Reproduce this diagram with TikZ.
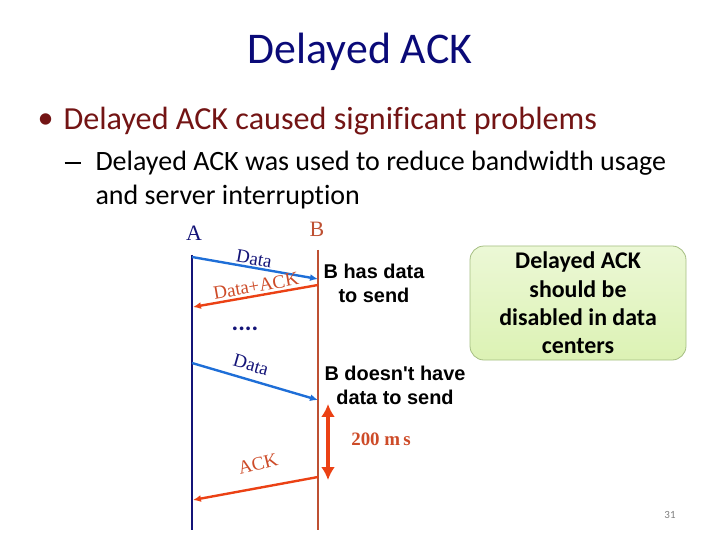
\documentclass[tikz,border=0pt]{standalone}
\usepackage{fontspec}
\setmainfont{Carlito}[Ligatures=NoCommon]
\newfontfamily\arialfont{Liberation Sans}
\newfontfamily\timesfont{Liberation Serif}
\usepackage{xcolor}
\usetikzlibrary{arrows.meta,positioning,calc}

\definecolor{titleblue}{RGB}{10,10,120}
\definecolor{bulletred}{RGB}{115,20,20}
\definecolor{lineA}{RGB}{20,20,120}
\definecolor{lineB}{RGB}{190,80,50}
\definecolor{msgblue}{RGB}{30,110,215}
\definecolor{msgred}{RGB}{235,65,20}
\definecolor{lblred}{RGB}{205,75,40}
\definecolor{boxgreen}{RGB}{220,242,180}
\definecolor{boxedge}{RGB}{165,190,130}

\begin{document}
\begin{tikzpicture}[
  x=1bp, y=-1bp,
  bullet/.style={anchor=west, text=bulletred, font=\fontsize{32.3}{36}\selectfont},
  subbullet/.style={anchor=base west, text=black, font=\fontsize{28.1}{34}\selectfont},
  host/.style={font=\timesfont\fontsize{22}{24}\selectfont},
  msg/.style={-{Latex[length=8pt,width=7pt]}, line width=2.4pt},
  msglbl/.style={font=\timesfont\fontsize{19}{21}\selectfont, inner sep=0pt},
  note/.style={font=\arialfont\bfseries\fontsize{20}{24}\selectfont, align=center},
  advice/.style={rectangle, rounded corners=14bp, draw=boxedge, line width=0.8pt,
    top color=boxgreen!55, bottom color=boxgreen, minimum width=216bp, minimum height=114bp,
    align=center, font=\bfseries\fontsize{24}{28.5}\selectfont}
]
\useasboundingbox (0,0) rectangle (720,540);

% Title and bullets
\node[text=titleblue, font=\fontsize{44}{48}\selectfont] (title) at (360,52) {Delayed ACK};
\node[bullet] (dot1) at (34,121) {\textbullet};
\node[bullet] (b1) at (60,121) {Delayed ACK caused significant problems};
\node[subbullet] (dash2) at (61,171) {\rule[0.24em]{0.6em}{0.07em}};
\node[subbullet] (b2) at (92,171) {Delayed ACK was used to reduce bandwidth usage};
\node[subbullet] (b3) at (92,205) {and server interruption};

% Hosts
\node[host, text=lineA] (A) at (194,233) {A};
\node[host, text=lineB] (B) at (317,229) {B};
\coordinate (Atop) at (192,255);
\coordinate (Abot) at (192,530);
\coordinate (Btop) at (318,250);
\coordinate (Bbot) at (318,530);
\draw[lineA, line width=1.2pt] (Atop) -- (Abot);
\draw[lineB, line width=1.2pt] (Btop) -- (Bbot);

% Message points
\coordinate (a1) at (192,257);
\coordinate (b1e) at (318,279);
\coordinate (b2s) at (318,285);
\coordinate (a2) at (193,307);
\coordinate (a3) at (192,363);
\coordinate (b3e) at (318,400);
\coordinate (b4s) at (318,477);
\coordinate (a4) at (193,500);
\coordinate (d1) at (328,404);
\coordinate (d2) at (328,480);

% Messages
\draw[msg, msgblue] (a1) -- (b1e);
\draw[msg, msgred] (b2s) -- (a2);
\draw[msg, msgblue] (a3) -- (b3e);
\draw[msg, msgred] (b4s) -- (a4);
\draw[{Latex[length=13pt,width=14pt]}-{Latex[length=13pt,width=14pt]}, msgred, line width=3.6pt] (d1) -- (d2);

% Message labels
\node[msglbl, text=lineA, rotate=-10] (l1) at (254,259) {Data};
\node[msglbl, text=lblred, rotate=10] (l2) at (256,286) {Data+ACK};
\node[font=\bfseries\fontsize{25}{26}\selectfont, text=lineA] (dots) at (245,329) {....};
\node[msglbl, text=lineA, rotate=-16] (l3) at (251,365) {Data};
\node[msglbl, text=lblred, rotate=14] (l4) at (258,464) {ACK};
\node[font=\timesfont\bfseries\fontsize{19}{21}\selectfont, text=lblred] (ms) at (381,439) {200 m\,s};

% Notes
\node[note] (n1) at (374,283) {B has data\\to send};
\node[note] (n2) at (395,385) {B doesn't have\\data to send};
\node[advice] (box) at (578,303) {Delayed ACK\\should be\\disabled in data\\centers};

\node[text=gray, font=\fontsize{11}{12}\selectfont] (pg) at (670,515) {31};
\end{tikzpicture}
\end{document}
